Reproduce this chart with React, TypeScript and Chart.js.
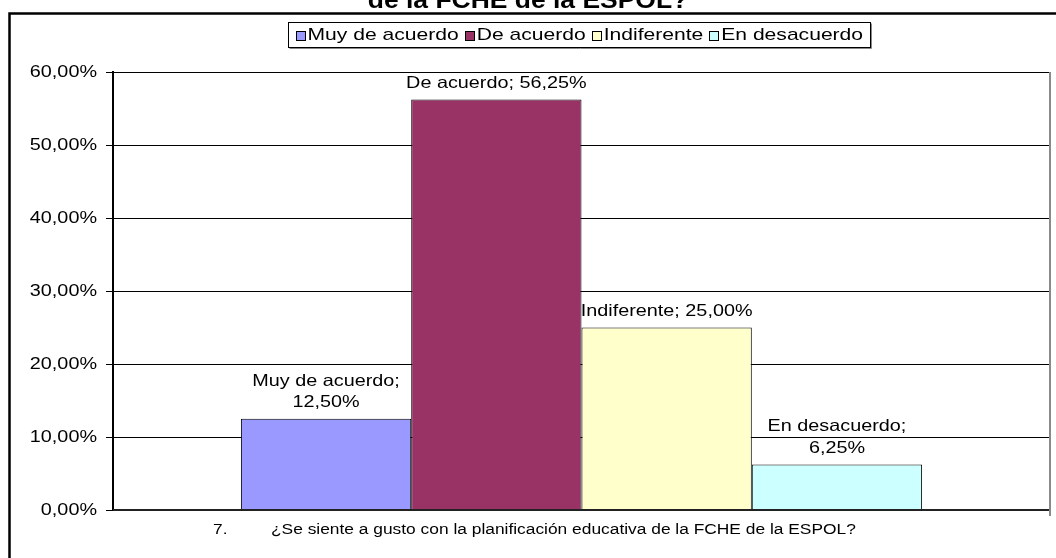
import React, { useEffect, useRef } from "react";
import { Chart, registerables } from "chart.js";

Chart.register(...registerables);

const TITLE_TEXT = "de la FCHE de la ESPOL?";
const CATEGORY_NUMBER = "7.";
const CATEGORY_QUESTION =
  "¿Se siente a gusto con la planificación educativa de la FCHE de la ESPOL?";
const SERIES_NAMES = ["Muy de acuerdo", "De acuerdo", "Indiferente", "En desacuerdo"];
const SERIES_VALUES = [12.5, 56.25, 25.0, 6.25];
const SERIES_COLORS = ["#9999FF", "#993366", "#FFFFCC", "#CCFFFF"];
const Y_MIN = 0;
const Y_MAX = 60;
const Y_STEP = 10;

const FONT = '"Liberation Sans", Arial, Helvetica, sans-serif';

function fmtPct(v: number): string {
  return v.toFixed(2).replace(".", ",") + "%";
}

function drawText(
  ctx: CanvasRenderingContext2D,
  text: string,
  x: number,
  y: number,
  size: number,
  sx: number,
  align: "left" | "center" | "right",
  bold = false
): number {
  ctx.save();
  ctx.font = `${bold ? "bold " : ""}${size}px ${FONT}`;
  ctx.textBaseline = "middle";
  ctx.textAlign = "left";
  const w = ctx.measureText(text).width * sx;
  let x0 = x;
  if (align === "center") x0 = x - w / 2;
  else if (align === "right") x0 = x - w;
  ctx.translate(x0, y);
  ctx.scale(sx, 1);
  ctx.fillStyle = "#000";
  ctx.fillText(text, 0, 0);
  ctx.restore();
  return w;
}

function measure(ctx: CanvasRenderingContext2D, text: string, size: number, sx: number, bold = false) {
  ctx.save();
  ctx.font = `${bold ? "bold " : ""}${size}px ${FONT}`;
  const w = ctx.measureText(text).width * sx;
  ctx.restore();
  return w;
}

const LABEL_SIZE = 16.5;
const LABEL_SX = 1.2;

const decorPlugin = {
  id: "decor",
  beforeDraw(chart: any) {
    const ctx: CanvasRenderingContext2D = chart.ctx;
    const W = chart.width;
    const H = chart.height;
    ctx.save();
    ctx.fillStyle = "#fff";
    ctx.fillRect(0, 0, W, H);
    // outer chart border (clipped on right/bottom)
    ctx.strokeStyle = "#000";
    ctx.lineWidth = 2.5;
    ctx.strokeRect(9.5, 13.5, W + 40, H + 40);
    ctx.restore();

    // title (partially clipped)
    drawText(ctx, TITLE_TEXT, 528, 2, 23, 1.15, "center", true);

    // legend
    const size = 17;
    const sx = 1.24;
    const sq = 9;
    const gap = 3;
    const itemGap = 6;
    const widths = SERIES_NAMES.map((n) => measure(ctx, n, size, sx));
    const total =
      widths.reduce((a, b) => a + b, 0) + SERIES_NAMES.length * (sq + gap) + (SERIES_NAMES.length - 1) * itemGap;
    const cx = 579;
    const pad = 7;
    const bx = Math.round(cx - total / 2 - pad) + 0.5;
    const bw = Math.round(total + 2 * pad);
    const by = 22.5;
    const bh = 25;
    ctx.save();
    ctx.fillStyle = "#fff";
    ctx.fillRect(bx, by, bw, bh);
    ctx.strokeStyle = "#000";
    ctx.lineWidth = 1;
    ctx.strokeRect(bx, by, bw, bh);
    ctx.strokeStyle = "#888";
    ctx.beginPath();
    ctx.moveTo(bx + 1, by + bh + 1);
    ctx.lineTo(bx + bw + 1, by + bh + 1);
    ctx.lineTo(bx + bw + 1, by + 1);
    ctx.stroke();
    ctx.restore();
    let x = bx + pad;
    const cy = by + bh / 2;
    SERIES_NAMES.forEach((n, i) => {
      ctx.save();
      ctx.fillStyle = SERIES_COLORS[i];
      ctx.fillRect(Math.round(x) + 0.5, Math.round(cy - sq / 2) + 0.5, sq, sq);
      ctx.strokeStyle = "#000";
      ctx.lineWidth = 1;
      ctx.strokeRect(Math.round(x) + 0.5, Math.round(cy - sq / 2) + 0.5, sq, sq);
      ctx.restore();
      x += sq + gap;
      drawText(ctx, n, x, cy + 0.5, size, sx, "left");
      x += widths[i] + itemGap;
    });
  },
  afterDatasetsDraw(chart: any) {
    const ctx: CanvasRenderingContext2D = chart.ctx;
    const area = chart.chartArea;
    const yScale = chart.scales.y;

    // baseline axis
    ctx.save();
    ctx.strokeStyle = "#222";
    ctx.lineWidth = 2;
    ctx.beginPath();
    ctx.moveTo(area.left, area.bottom);
    ctx.lineTo(area.right, area.bottom);
    ctx.stroke();
    // right plot border (gray)
    ctx.strokeStyle = "#8a8a8a";
    ctx.lineWidth = 2;
    ctx.beginPath();
    ctx.moveTo(area.right, area.top);
    ctx.lineTo(area.right, area.bottom + 6);
    ctx.stroke();
    ctx.restore();

    // y tick labels
    yScale.ticks.forEach((t: any) => {
      const y = yScale.getPixelForValue(t.value);
      drawText(ctx, fmtPct(t.value), area.left - 16, y, LABEL_SIZE, LABEL_SX, "right");
    });

    // data labels
    chart.data.datasets.forEach((ds: any, i: number) => {
      const meta = chart.getDatasetMeta(i);
      const bar = meta.data[0];
      if (!bar) return;
      const full = `${SERIES_NAMES[i]}; ${fmtPct(ds.data[0])}`;
      const lines =
        measure(ctx, full, LABEL_SIZE, LABEL_SX) > 190 ? [`${SERIES_NAMES[i]};`, fmtPct(ds.data[0])] : [full];
      const lh = 21.5;
      lines.forEach((ln, k) => {
        const y = bar.y - 16 - (lines.length - 1 - k) * lh;
        drawText(ctx, ln, bar.x, y, LABEL_SIZE, LABEL_SX, "center");
      });
    });

    // x category label
    drawText(ctx, CATEGORY_NUMBER, 213, area.bottom + 20, 15.5, 1.12, "left");
    drawText(ctx, CATEGORY_QUESTION, 271, area.bottom + 20, 15.5, 1.12, "left");
  },
};

export default function App() {
  const canvasRef = useRef<HTMLCanvasElement | null>(null);

  useEffect(() => {
    const canvas = canvasRef.current;
    if (!canvas) return;
    const chart = new Chart(canvas, {
      type: "bar",
      data: {
        labels: [CATEGORY_QUESTION],
        datasets: SERIES_NAMES.map((name, i) => ({
          label: name,
          data: [SERIES_VALUES[i]],
          backgroundColor: SERIES_COLORS[i],
          borderColor: "#000",
          borderWidth: 1,
          categoryPercentage: 0.727,
          barPercentage: 1.0,
        })),
      },
      options: {
        responsive: false,
        animation: false,
        devicePixelRatio: 1,
        layout: { padding: { left: 0, top: 72, right: 6, bottom: 48 } },
        plugins: {
          legend: { display: false },
          title: { display: false },
          tooltip: { enabled: false },
        },
        scales: {
          x: { display: false },
          y: {
            min: Y_MIN,
            max: Y_MAX,
            ticks: { stepSize: Y_STEP, display: false },
            grid: { color: "#000", lineWidth: 1, drawTicks: true, tickLength: 7 },
            border: { display: true, color: "#000", width: 2 },
            afterFit(scale: any) {
              scale.width = 113;
            },
          },
        },
      },
      plugins: [decorPlugin],
    });
    return () => chart.destroy();
  }, []);

  return (
    <div style={{ position: "absolute", left: 0, top: 0, width: 1056, height: 558, background: "#fff" }}>
      <canvas ref={canvasRef} width={1056} height={558} style={{ display: "block", width: 1056, height: 558 }} />
    </div>
  );
}
